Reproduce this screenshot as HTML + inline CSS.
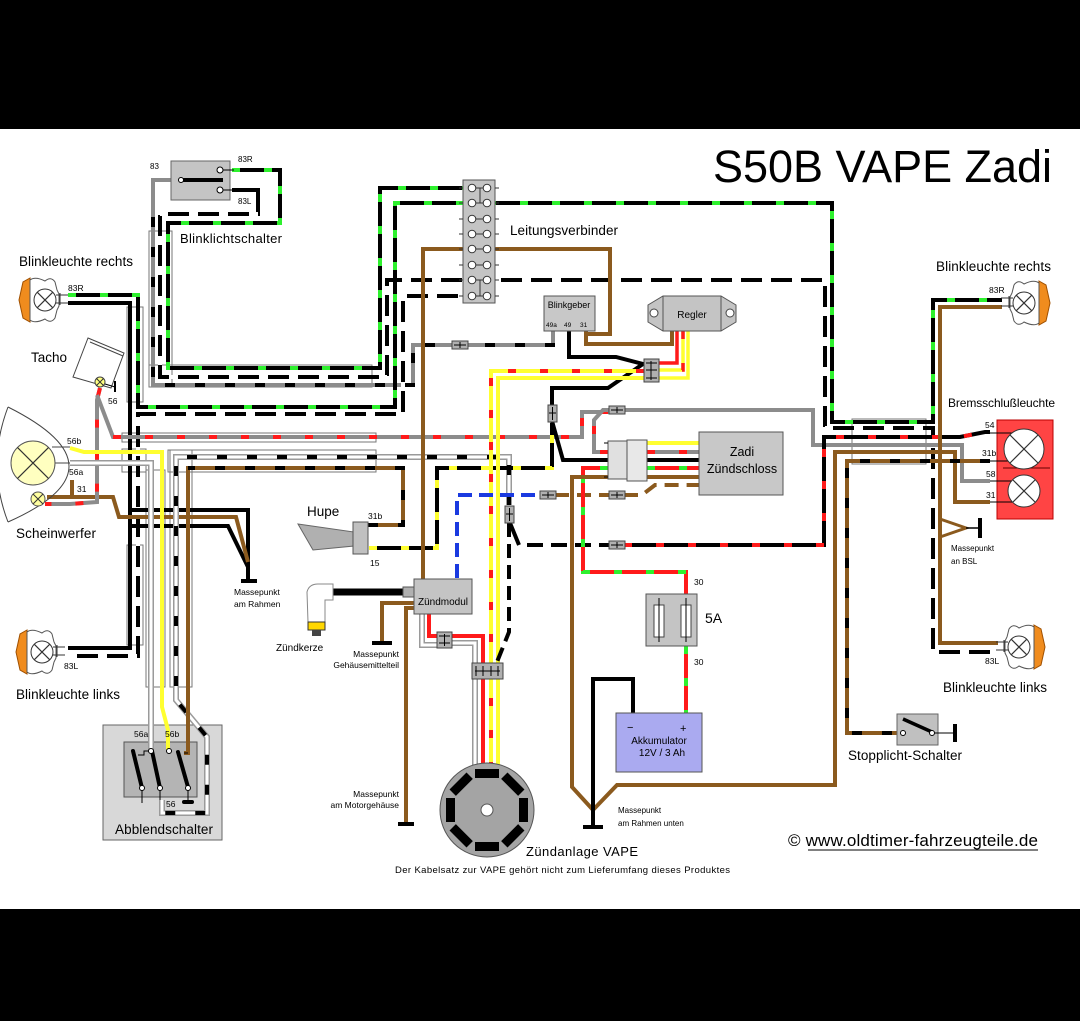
<!DOCTYPE html>
<html><head><meta charset="utf-8">
<style>
html,body{margin:0;padding:0;background:#000;}
svg{display:block}
text{font-family:"Liberation Sans",Arial,sans-serif;fill:#000}
.w{fill:none;stroke-width:4;stroke-linejoin:miter}
.k{stroke:#000}.gy{stroke:#8c8c8c}.br{stroke:#8b5a1e}.rd{stroke:#ff1a1a}.yl{stroke:#ffff30}.bl{stroke:#1a3ae0}
.wo{stroke:#9a9a9a;stroke-width:6}.wh{stroke:#fff;stroke-width:3}
.dg{stroke:#2ef02e;stroke-dasharray:8 24}
.dr{stroke:#ff1a1a;stroke-dasharray:8 24}
.dk{stroke:#000;stroke-dasharray:10 20}
.dy{stroke:#ffff30;stroke-dasharray:8 24}
.dw{stroke:#fff;stroke-dasharray:9 21}
.sl{fill:none;stroke:#777;stroke-width:1}
.c{fill:#c4c4c4;stroke:#555;stroke-width:1}
.cn{fill:#b0b0b0;stroke:#444;stroke-width:1}
.t{stroke:#000;stroke-width:1;fill:none}
</style></head><body>
<svg width="1080" height="1021" viewBox="0 0 1080 1021" xmlns="http://www.w3.org/2000/svg">
<rect x="0" y="0" width="1080" height="1021" fill="#000"/>
<rect x="0" y="129" width="1080" height="780" fill="#fff"/>

<text x="713" y="182" font-size="45" textLength="339">S50B VAPE Zadi</text>

<!-- sleeves -->
<rect class="sl" x="149" y="231" width="23" height="156"/>
<rect class="sl" x="149" y="365" width="223" height="22"/>
<rect class="sl" x="127" y="307" width="16" height="95"/>
<rect class="sl" x="122" y="433" width="254" height="9"/>
<rect class="sl" x="122" y="449" width="24" height="23"/>
<rect class="sl" x="168" y="450" width="208" height="22"/>
<rect class="sl" x="127" y="545" width="16" height="100"/>
<rect class="sl" x="146" y="470" width="19" height="217"/>
<rect class="sl" x="170" y="450" width="22" height="237"/>
<rect class="sl" x="852" y="419" width="74" height="45"/>

<!-- Abblendschalter boxes (behind wires) -->
<rect x="103" y="725" width="119" height="115" fill="#d8d8d8" stroke="#666"/>
<rect x="124" y="742" width="73" height="55" fill="#b4b4b4" stroke="#555"/>

<!-- WIRES -->
<path class="w gy" d="M181,180 H153 V385 H413 V345 H553 V331"/>
<path class="w dk" d="M153,217 V385 H413 V345 H553 V331"/>
<path class="w k" d="M232,170 H280 V223 H168 V368 H380 V188 H463"/>
<path class="w dg" d="M232,170 H280 V223 H168 V368 H380 V188 H463"/>
<path class="w k" d="M232,190 H258 V214 H160 V377 H387 V280 H825 V428 H933 V652 H998"/>
<path class="w dw" d="M258,214 H160 V377 H387 V280 H825 V428 H933 V652 H998"/>
<path class="w k" d="M68,295 H138 V407 H395 V203 H832 V422 H933 V300 H1002"/>
<path class="w dg" d="M68,295 H138 V407 H395 V203 H832 V422 H933 V300 H1002"/>
<path class="w k" d="M68,656 H138 V414 H403 V296 H463"/>
<path class="w dw" d="M68,656 H138 V414 H403 V296 H463"/>
<path class="w k" d="M68,648 H130 V303 H68"/>
<path class="w k" d="M130,510 H248 V581"/>
<path class="w k" d="M130,526 H228 L248,567"/>
<path class="w br" d="M72,480 V497 M47,497 H113 L119,517 H236 L248,562"/>
<path class="w gy" d="M100,388 L97,400 V502 L70,504 H45"/>
<path class="w dr" d="M100,388 L97,400 V502 L70,504 H45"/>
<path class="w gy" d="M97,395 L113,437 H582 V412 H610"/>
<path class="w dr" d="M113,437 H582 V412 H610"/>
<path class="w gy" d="M617,410 H813 V445 H962 V481 H990"/>
<path class="w gy" d="M608,452 H594 V420 L603,410 H610"/>
<path class="w dr" d="M608,452 H594 V420 L603,410"/>
<path class="w yl" d="M70,448 L84,452 H162 V707 L168,730 V750"/>
<path class="w wo" d="M70,463 H151 V750"/>
<path class="w wh" d="M70,463 H151 V750"/>
<path class="w wo" d="M509,505 V457 H176 V700 L207,737 V813 H162 V800"/>
<path class="w wh" d="M509,505 V457 H176 V700 L207,737 V813 H162 V800"/>
<path class="w dk" d="M509,505 V457 H176 V700 L207,737 V813 H162 V800"/>
<path class="w br" d="M368,525 H403 V468 H188 V753 H184"/>
<path class="w dk" d="M368,525 H403 V468 H188"/>
<path class="w k" d="M369,548 H437 V468 H552 V423"/>
<path class="w dy" d="M369,548 H437 V468 H552 V423"/>
<path class="w k" d="M569,331 V357 H616 L643,364 L608,388 H552 V405"/>
<path class="w k" d="M552,421 L563,460 H608"/>
<path class="w br" d="M463,249 H423 V579"/>
<path class="w br" d="M495,249 H610 V334 H586 M586,331 V344 H672 V331"/>
<path class="w rd" style="stroke-width:3.5" d="M677,331 V363 H659"/>
<path class="w yl" style="stroke-width:3.5" d="M683,331 V370 H659"/>
<path class="w dr" style="stroke-width:3.5" d="M683,331 V370 H659"/>
<path class="w yl" style="stroke-width:3.5" d="M688,331 V378 H659"/>
<path class="w yl" d="M644,371 H491 V765"/>
<path class="w dr" d="M644,371 H491 V765"/>
<path class="w yl" d="M644,378 H498 V765"/>
<path class="w wo" d="M422,614 V645 H437"/>
<path class="w wh" d="M422,614 V645 H437"/>
<path class="w rd" d="M429,614 V636 H437"/>
<path class="w rd" d="M452,636 H483 V765"/>
<path class="w wo" d="M452,643 H475 V765"/>
<path class="w wh" d="M452,643 H475 V765"/>
<path class="w bl" style="stroke-dasharray:14 7" d="M457,578 V495 H541"/>
<path class="w br" style="stroke-dasharray:14 8" d="M555,495 H610 M624,495 H642 L655,485 H699"/>
<path class="w k" style="stroke-dasharray:14 7" d="M509,523 V632 L497,662"/>
<path class="w k" d="M510,523 L519,545"/>
<path class="w k" style="stroke-dasharray:16 8" d="M527,545 H610"/>
<path class="w k" d="M624,545 H824 V437 H960 L985,432 H990"/>
<path class="w dr" d="M624,545 H824 V437 H960 L985,432"/>
<path class="w yl" d="M647,443 H699"/>
<path class="w gy" d="M647,452 H699"/>
<path class="w dr" d="M647,452 H699"/>
<path class="w k" d="M647,460 H699"/>
<path class="w rd" d="M647,468 H699"/>
<path class="w dg" d="M647,468 H699"/>
<path class="w br" d="M647,477 H699"/>
<path class="w rd" d="M608,468 H583 V572 H686 V595"/>
<path class="w dg" d="M608,468 H583 V572 H686 V595"/>
<path class="w rd" d="M686,646 V713"/>
<path class="w dg" d="M686,646 V713"/>
<path class="w br" d="M608,477 H572 V787 L593,810 L617,785 H835 V452 H955 V502 H990"/>
<path class="w br" d="M990,461 H847 V733 H897"/>
<path class="w dk" d="M990,461 H847 V733 H897"/>
<path class="w k" d="M633,713 V679 H593 V825"/>
<path class="w br" d="M1002,307 H940 V643 H998"/>
<path class="w br" style="stroke-width:3" d="M940,519 L966,528 L940,537"/>
<line x1="966" y1="528" x2="980" y2="528" stroke="#000" stroke-width="1.5"/>
<rect x="978" y="518" width="4" height="20" fill="#000"/>
<path class="w br" d="M414,603 H382 V641"/>
<path class="w br" d="M414,608 H406 V822"/>
<rect x="372" y="641" width="20" height="4" fill="#000"/>
<rect x="398" y="822" width="16" height="4" fill="#000"/>
<rect x="241" y="579" width="16" height="4" fill="#000"/>
<rect x="583" y="825" width="20" height="4" fill="#000"/>
<line x1="333" y1="592" x2="404" y2="592" stroke="#000" stroke-width="7"/>
<rect x="403" y="587" width="12" height="10" fill="#b0b0b0" stroke="#555"/>

<!-- COMPONENTS -->
<rect x="171" y="161" width="59" height="39" fill="#c4c4c4" stroke="#666"/>
<line x1="181" y1="180" x2="223" y2="180" stroke="#000" stroke-width="4"/>
<circle cx="181" cy="180" r="2.5" fill="#fff" stroke="#000"/>
<circle cx="220" cy="170" r="3" fill="#fff" stroke="#000"/>
<circle cx="220" cy="190" r="3" fill="#fff" stroke="#000"/>
<line x1="223" y1="170" x2="234" y2="170" stroke="#000"/>
<line x1="223" y1="190" x2="234" y2="190" stroke="#000"/>
<text x="150" y="169" font-size="8">83</text>
<text x="238" y="162" font-size="8">83R</text>
<text x="238" y="204" font-size="8">83L</text>
<text x="180" y="243" font-size="13" textLength="102">Blinklichtschalter</text>

<rect x="463" y="180" width="32" height="123" fill="#c4c4c4" stroke="#555"/>
<g stroke="#333" stroke-width="1" fill="#fff">
<path d="M459,188H463M495,188H499M459,203H463M495,203H499M459,219H463M495,219H499M459,234H463M495,234H499M459,249H463M495,249H499M459,265H463M495,265H499M459,280H463M495,280H499M459,296H463M495,296H499"/>
<path d="M472,188H487M472,203H487M472,219H487M472,234H487M472,249H487M472,265H487M472,280H487M472,296H487M480,188V203M480,280V296" fill="none"/>
<circle cx="472" cy="188" r="3.8"/><circle cx="487" cy="188" r="3.8"/>
<circle cx="472" cy="203" r="3.8"/><circle cx="487" cy="203" r="3.8"/>
<circle cx="472" cy="219" r="3.8"/><circle cx="487" cy="219" r="3.8"/>
<circle cx="472" cy="234" r="3.8"/><circle cx="487" cy="234" r="3.8"/>
<circle cx="472" cy="249" r="3.8"/><circle cx="487" cy="249" r="3.8"/>
<circle cx="472" cy="265" r="3.8"/><circle cx="487" cy="265" r="3.8"/>
<circle cx="472" cy="280" r="3.8"/><circle cx="487" cy="280" r="3.8"/>
<circle cx="472" cy="296" r="3.8"/><circle cx="487" cy="296" r="3.8"/>
</g>
<text x="510" y="235" font-size="13.5" textLength="108">Leitungsverbinder</text>

<rect x="544" y="296" width="51" height="35" fill="#c8c8c8" stroke="#555"/>
<text x="569" y="308" font-size="9" text-anchor="middle">Blinkgeber</text>
<text x="546" y="327" font-size="6.5">49a</text>
<text x="564" y="327" font-size="6.5">49</text>
<text x="580" y="327" font-size="6.5">31</text>

<path d="M663,296 H721 L736,305 V322 L721,331 H663 L648,322 V305 Z" fill="#c4c4c4" stroke="#555"/>
<line x1="663" y1="296" x2="663" y2="331" stroke="#555"/>
<line x1="721" y1="296" x2="721" y2="331" stroke="#555"/>
<circle cx="654" cy="313" r="4" fill="#fff" stroke="#444"/>
<circle cx="730" cy="313" r="4" fill="#fff" stroke="#444"/>
<text x="692" y="318" font-size="10" text-anchor="middle">Regler</text>
<rect class="cn" x="644" y="359" width="15" height="23"/>
<path class="t" d="M646,363H657M646,370H657M646,378H657M651,361V380"/>

<g class="cn"><rect x="452" y="341" width="16" height="8"/><rect x="609" y="406" width="16" height="8"/><rect x="540" y="491" width="16" height="8"/><rect x="609" y="491" width="16" height="8"/><rect x="609" y="541" width="16" height="8"/><rect x="548" y="405" width="9" height="17"/><rect x="505" y="506" width="9" height="17"/></g>
<path class="t" d="M454,345H466M460,342V348M611,410H623M617,407V413M542,495H554M548,492V498M611,495H623M617,492V498M611,545H623M617,542V548M552.5,407V420M549,413H556M509.5,508V521M506,514H513"/>

<rect x="608" y="441" width="19" height="38" fill="#e0e0e0" stroke="#555"/>
<rect x="627" y="440" width="20" height="41" fill="#e8e8e8" stroke="#555"/>
<path class="t" d="M604,443H608M604,477H608"/>
<rect x="699" y="432" width="84" height="63" fill="#c8c8c8" stroke="#555"/>
<text x="742" y="456" font-size="12.5" text-anchor="middle">Zadi</text>
<text x="742" y="473" font-size="12.5" text-anchor="middle">Zündschloss</text>

<rect x="646" y="594" width="51" height="52" fill="#c4c4c4" stroke="#555"/>
<rect x="654" y="605" width="10" height="32" fill="#fff" stroke="#444"/>
<rect x="681" y="605" width="10" height="32" fill="#fff" stroke="#444"/>
<path class="t" d="M659,598V642M686,598V642"/>
<text x="694" y="585" font-size="8.5">30</text>
<text x="694" y="665" font-size="8.5">30</text>
<text x="705" y="623" font-size="14">5A</text>

<rect x="616" y="713" width="86" height="59" fill="#aaaaf0" stroke="#555"/>
<text x="627" y="731" font-size="11">−</text>
<text x="680" y="732" font-size="11">+</text>
<text x="659" y="744" font-size="10" text-anchor="middle">Akkumulator</text>
<text x="662" y="756" font-size="10" text-anchor="middle">12V / 3 Ah</text>
<text x="618" y="813" font-size="8">Massepunkt</text>
<text x="618" y="826" font-size="8">am Rahmen unten</text>

<rect x="414" y="579" width="58" height="35" fill="#c4c4c4" stroke="#555"/>
<text x="443" y="605" font-size="10" text-anchor="middle">Zündmodul</text>
<rect class="cn" x="437" y="632" width="15" height="16"/>
<path class="t" d="M439,636H450M439,643H450M444.5,634V646"/>
<rect class="cn" x="472" y="663" width="31" height="16"/>
<path class="t" d="M475,671H500M476,666V676M483,666V676M491,666V676M498,666V676"/>
<text x="399" y="657" font-size="8.5" text-anchor="end">Massepunkt</text>
<text x="399" y="668" font-size="8.5" text-anchor="end">Gehäusemittelteil</text>
<text x="399" y="797" font-size="8.5" text-anchor="end">Massepunkt</text>
<text x="399" y="808" font-size="8.5" text-anchor="end">am Motorgehäuse</text>

<g transform="translate(487,810)">
<circle r="47" fill="#a4a4a4" stroke="#555"/>
<g fill="#000">
<rect x="-12" y="-41" width="24" height="9"/>
<rect x="-12" y="-41" width="24" height="9" transform="rotate(45)"/>
<rect x="-12" y="-41" width="24" height="9" transform="rotate(90)"/>
<rect x="-12" y="-41" width="24" height="9" transform="rotate(135)"/>
<rect x="-12" y="-41" width="24" height="9" transform="rotate(180)"/>
<rect x="-12" y="-41" width="24" height="9" transform="rotate(225)"/>
<rect x="-12" y="-41" width="24" height="9" transform="rotate(270)"/>
<rect x="-12" y="-41" width="24" height="9" transform="rotate(315)"/>
</g>
<circle r="6" fill="#fff" stroke="#555"/>
</g>
<text x="526" y="856" font-size="13" textLength="112">Zündanlage VAPE</text>
<text x="395" y="873" font-size="9.5" textLength="335">Der Kabelsatz zur VAPE gehört nicht zum Lieferumfang dieses Produktes</text>

<polygon points="298,524 354,532 354,546 313,550" fill="#b0b0b0" stroke="#666"/>
<rect x="353" y="522" width="15" height="32" fill="#c0c0c0" stroke="#555"/>
<text x="307" y="516" font-size="13.5">Hupe</text>
<text x="368" y="519" font-size="8.5">31b</text>
<text x="370" y="566" font-size="8.5">15</text>

<path d="M307,592 Q309,584 318,584 H333 V600 H325 V622 H308 Z" fill="#fff" stroke="#888"/>
<rect x="308" y="622" width="17" height="8" fill="#ffd700" stroke="#333"/>
<rect x="312" y="630" width="9" height="6" fill="#444"/>
<text x="276" y="651" font-size="10">Zündkerze</text>

<text x="234" y="595" font-size="8.5">Massepunkt</text>
<text x="234" y="607" font-size="8.5">am Rahmen</text>

<path d="M8,407 Q-14,465 8,522" fill="none" stroke="#444"/>
<path d="M8,407 Q130,468 8,522" fill="none" stroke="#444"/>
<path class="t" d="M52,447H70M55,463H70" style="stroke:#444"/>
<circle cx="33" cy="463" r="22" fill="#ffffc0" stroke="#555"/>
<path d="M17.4,447.4L48.6,478.6M48.6,447.4L17.4,478.6" stroke="#333" stroke-width="1.2"/>
<circle cx="38" cy="499" r="7" fill="#ffffa0" stroke="#555"/>
<path d="M33,494L43,504M43,494L33,504" stroke="#333"/>
<text x="67" y="444" font-size="8.5">56b</text>
<text x="69" y="475" font-size="8.5">56a</text>
<text x="77" y="492" font-size="8.5">31</text>
<text x="16" y="538" font-size="13.5" textLength="80">Scheinwerfer</text>

<polygon points="88,338 124,353 111,388 73,377" fill="#fff" stroke="#444"/>
<line x1="90" y1="342" x2="123" y2="356" stroke="#444"/>
<circle cx="100" cy="382" r="5" fill="#ffff80" stroke="#444"/>
<path d="M96.5,378.5L103.5,385.5M103.5,378.5L96.5,385.5" stroke="#333"/>
<line x1="105" y1="384" x2="115" y2="387" stroke="#000"/>
<line x1="115" y1="381" x2="115" y2="392" stroke="#000" stroke-width="2"/>
<text x="31" y="362" font-size="13.5">Tacho</text>
<text x="108" y="404" font-size="8.5">56</text>

<defs>
<g id="lamp">
<path d="M-15,-22 L-22,-18 L-26,0 L-22,18 L-15,22 Z" fill="#f08c1e" stroke="#a05000"/>
<path d="M-15,-20 Q-10,-24 0,-19 Q6,-24 10,-18 L12,-10 L14,-6 L14,6 L12,10 L10,18 Q6,24 0,19 Q-10,24 -15,20 Z" fill="#fff" stroke="#555"/>
<circle r="11" fill="#fff" stroke="#333"/>
<path d="M-7.8,-7.8L7.8,7.8M7.8,-7.8L-7.8,7.8" stroke="#333" stroke-width="1.2"/>
<path d="M11,-5H23M11,3H23M15,-7V5" stroke="#333" stroke-width="1" fill="none"/>
</g>
</defs>
<use href="#lamp" transform="translate(45,300)"/>
<use href="#lamp" transform="translate(42,652)"/>
<use href="#lamp" transform="translate(1024,303) scale(-1,1)"/>
<use href="#lamp" transform="translate(1019,647) scale(-1,1)"/>
<text x="19" y="266" font-size="13.5" textLength="114">Blinkleuchte rechts</text>
<text x="68" y="291" font-size="8.5">83R</text>
<text x="64" y="669" font-size="8.5">83L</text>
<text x="16" y="699" font-size="13.5" textLength="104">Blinkleuchte links</text>
<text x="936" y="271" font-size="13.5" textLength="115">Blinkleuchte rechts</text>
<text x="989" y="293" font-size="8.5">83R</text>
<text x="985" y="664" font-size="8.5">83L</text>
<text x="943" y="692" font-size="13.5" textLength="104">Blinkleuchte links</text>

<rect x="997" y="420" width="56" height="99" fill="#ff4444" stroke="#b00"/>
<line x1="1003" y1="468" x2="1050" y2="468" stroke="#600"/>
<path class="t" d="M990,433H1012M990,461H1012M990,481H1014M990,502H1014"/>
<circle cx="1024" cy="449" r="20" fill="#fff" stroke="#333"/>
<path d="M1010,435L1038,463M1038,435L1010,463" stroke="#333" stroke-width="1.2"/>
<circle cx="1024" cy="491" r="16" fill="#fff" stroke="#333"/>
<path d="M1013,480L1035,502M1035,480L1013,502" stroke="#333" stroke-width="1.2"/>
<text x="948" y="407" font-size="12" textLength="107">Bremsschlußleuchte</text>
<text x="985" y="428" font-size="8.5">54</text>
<text x="982" y="456" font-size="8.5">31b</text>
<text x="986" y="477" font-size="8.5">58</text>
<text x="986" y="498" font-size="8.5">31</text>
<text x="951" y="551" font-size="8">Massepunkt</text>
<text x="951" y="564" font-size="8">an BSL</text>

<rect x="897" y="714" width="41" height="31" fill="#c0c0c0" stroke="#666"/>
<line x1="903" y1="719" x2="932" y2="732" stroke="#000" stroke-width="3.5"/>
<line x1="935" y1="733" x2="955" y2="733" stroke="#000"/>
<rect x="953" y="724" width="4" height="18" fill="#000"/>
<circle cx="903" cy="733" r="2.5" fill="#fff" stroke="#000"/>
<circle cx="932" cy="733" r="2.5" fill="#fff" stroke="#000"/>
<text x="848" y="760" font-size="13.5" textLength="114">Stopplicht-Schalter</text>

<!-- Abblendschalter details -->
<path d="M133,751 L142,788 M152,751 L160,788 M178,752 L188,787" stroke="#000" stroke-width="4" stroke-linecap="round"/>
<path class="t" d="M142,790V803M160,790V800M188,790V800M138,755H144V751H151M188,753H184"/>
<rect x="182" y="800" width="12" height="4" rx="2" fill="#000"/>
<g fill="#fff" stroke="#000"><circle cx="142" cy="788" r="2.5"/><circle cx="160" cy="788" r="2.5"/><circle cx="188" cy="788" r="2.5"/><circle cx="151" cy="751" r="2.5"/><circle cx="169" cy="751" r="2.5"/></g>
<text x="134" y="737" font-size="8.5">56a</text>
<text x="165" y="737" font-size="8.5">56b</text>
<text x="166" y="807" font-size="8.5">56</text>
<text x="115" y="834" font-size="13.5" textLength="98">Abblendschalter</text>

<text x="788" y="846" font-size="17" textLength="250">© www.oldtimer-fahrzeugteile.de</text>
<line x1="808" y1="850" x2="1038" y2="850" stroke="#000" stroke-width="1"/>
</svg>
</body></html>
